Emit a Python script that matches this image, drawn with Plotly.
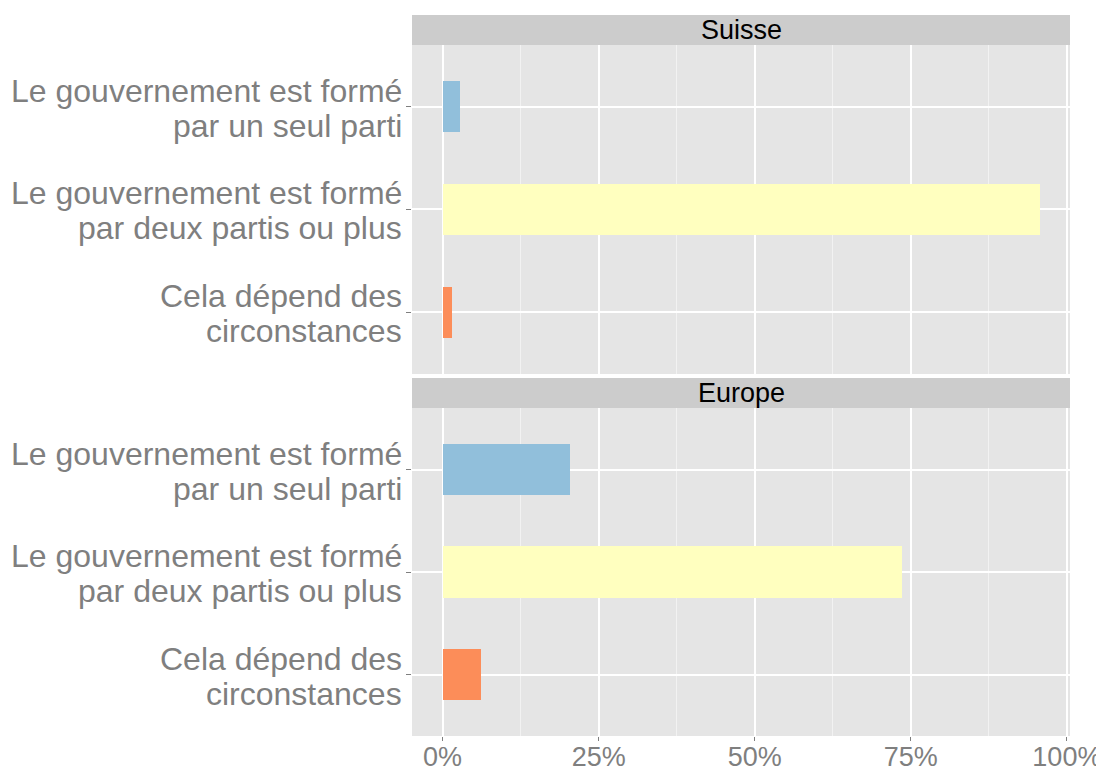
import plotly.graph_objects as go
from plotly.subplots import make_subplots

# answer categories, top to bottom
categories = [
    "Le gouvernement est formé<br>par un seul parti",
    "Le gouvernement est formé<br>par deux partis ou plus",
    "Cela dépend des<br>circonstances",
]
colors = ["#91BFDB", "#FFFFBF", "#FC8D59"]

panels = ["Suisse", "Europe"]
suisse = [0.028, 0.957, 0.015]
europe = [0.204, 0.736, 0.062]

x_ticks = [0, 0.25, 0.5, 0.75, 1.0]
x_ticktext = ["0%", "25%", "50%", "75%", "100%"]

FONT = "Liberation Sans, Arial, sans-serif"
GREY = "#7F7F7F"

fig = make_subplots(rows=2, cols=1, shared_xaxes=True, vertical_spacing=0.0)

for row, values in enumerate([suisse, europe], start=1):
    fig.add_trace(
        go.Bar(
            x=values,
            y=categories,
            orientation="h",
            width=0.5,
            marker=dict(color=colors, line=dict(width=0)),
            showlegend=False,
            hoverinfo="x+y",
        ),
        row=row,
        col=1,
    )

# layout geometry (paper fractions)
top_dom = [0.5021, 0.9584]
bot_dom = [0.0, 0.4549]
strips = [(0.9584, 1.0), (0.4549, 0.4965)]

# the page body has an 8px margin, so the figure is 8px smaller than the window
fig.update_layout(
    width=1096,
    height=759,
    margin=dict(l=404, r=34, t=7, b=31, autoexpand=False),
    paper_bgcolor="white",
    plot_bgcolor="#E5E5E5",
    bargap=0,
    font=dict(family=FONT, color=GREY),
    yaxis=dict(domain=top_dom),
    yaxis2=dict(domain=bot_dom),
)

fig.update_xaxes(
    range=[-0.049, 1.005],
    tickvals=x_ticks,
    ticktext=x_ticktext,
    showgrid=True,
    gridcolor="white",
    gridwidth=1.5,
    zeroline=False,
    showline=False,
    automargin=False,
    ticks="outside",
    ticklen=4,
    tickwidth=1,
    tickcolor=GREY,
    ticklabelstandoff=-7,
    tickfont=dict(size=27, color=GREY, family=FONT),
    minor=dict(tickvals=[0.125, 0.375, 0.625, 0.875], showgrid=True, gridcolor="#F2F2F2", gridwidth=1, ticks=""),
)
fig.update_xaxes(ticks="", showticklabels=False, row=1, col=1)

fig.update_yaxes(
    categoryorder="array",
    categoryarray=categories,
    range=[2.6, -0.6],
    showgrid=True,
    gridcolor="white",
    gridwidth=1.5,
    zeroline=False,
    showline=False,
    automargin=False,
    showticklabels=False,
    ticks="outside",
    ticklen=5,
    tickwidth=1,
    tickcolor=GREY,
)

# two-line category labels with tighter line spacing than plotly's tick text
for yref in ["y", "y2"]:
    for cat in categories:
        first, second = cat.split("<br>")
        for line, shift in [(first, 16), (second, -19)]:
            fig.add_annotation(
                text=line, xref="paper", yref=yref,
                x=0, y=cat, xshift=-8, yshift=shift,
                xanchor="right", yanchor="middle", showarrow=False,
                font=dict(size=32, color=GREY, family=FONT),
            )

for name, (y0, y1) in zip(panels, strips):
    fig.add_shape(
        type="rect", xref="paper", yref="paper",
        x0=0, x1=1, y0=y0, y1=y1,
        fillcolor="#CCCCCC", line=dict(width=0), layer="below",
    )
    fig.add_annotation(
        text=name, xref="paper", yref="paper",
        x=0.5, y=(y0 + y1) / 2, showarrow=False,
        xanchor="center", yanchor="middle",
        font=dict(size=27, color="black", family=FONT),
    )

fig.write_html("out.html")
